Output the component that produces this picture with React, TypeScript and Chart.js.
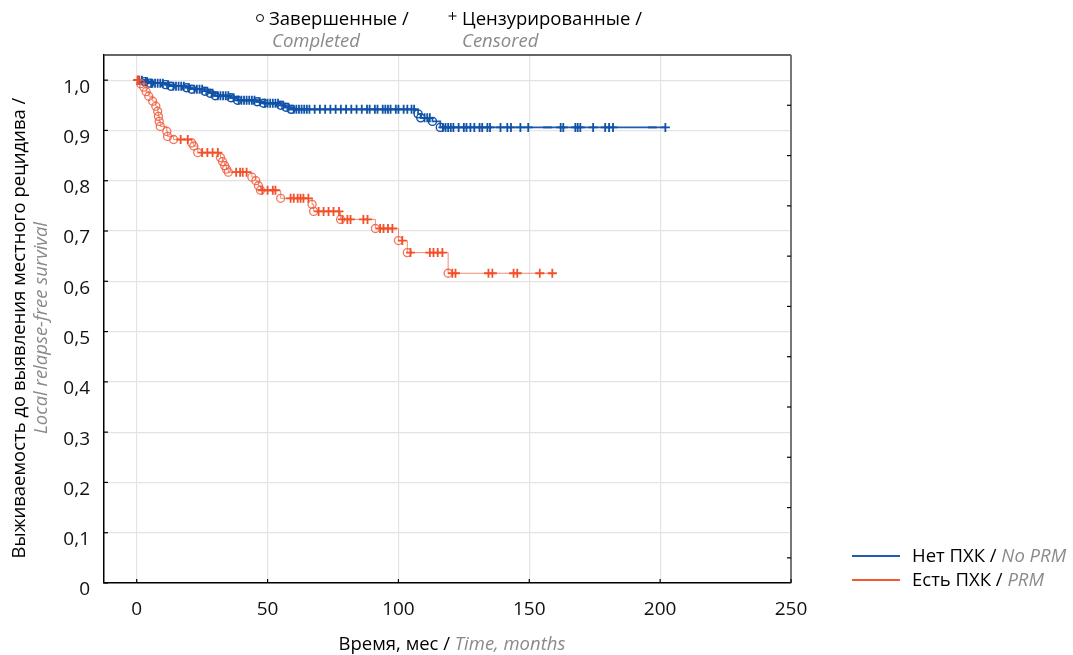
import React, { useEffect, useRef } from 'react';
import { Chart, registerables } from 'chart.js';

Chart.register(...registerables);

// ---- data ----
const xTicks = [0, 50, 100, 150, 200, 250];
const yTicks = [0, 0.1, 0.2, 0.3, 0.4, 0.5, 0.6, 0.7, 0.8, 0.9, 1.0];

// No PRM (Нет ПХК): event times & survival after event
const noPrmEventTimes = [3, 5, 11, 13, 19, 21, 26, 28, 30, 36, 38.5, 46, 48.5, 55, 57, 59, 107.5, 108.5, 113, 116];
const noPrmEventSurv = [0.997, 0.994, 0.991, 0.988, 0.985, 0.982, 0.978, 0.974, 0.969, 0.965, 0.96, 0.957, 0.954, 0.95, 0.946, 0.942, 0.933, 0.925, 0.918, 0.906];
const noPrmCensorTimes = [0.5, 1, 2, 3.5, 4, 5.5, 6, 7, 8, 9, 10, 12, 14, 15, 16, 17, 18, 20, 22, 23, 24, 25, 27, 29, 31, 32, 33, 34, 35, 37, 39, 40, 41, 42, 43, 44, 45, 47, 49, 50, 51, 52, 53, 54, 56, 58, 60, 61, 62, 63, 64, 65, 66, 68, 70, 72, 74, 76, 78, 80, 82, 84, 86, 88, 89, 91, 92, 94, 95, 96, 97, 99, 100, 102, 103.4, 105, 106, 110, 111, 112, 117, 118, 119, 120, 121, 123, 125, 126, 127.5, 129, 131, 132, 134, 135, 139, 141.6, 143, 146.6, 149.6, 162, 163, 167.6, 168.5, 169.5, 174.4, 179, 180.5, 182, 202];
const noPrmDashTimes = [157, 197];

// PRM (Есть ПХК)
const prmEventTimes = [1.5, 2.7, 3.6, 4.6, 6.1, 7.3, 8.0, 8.3, 8.6, 9.0, 11.5, 11.8, 14.1, 21.0, 21.8, 23.3, 32.0, 32.8, 33.6, 34.3, 35.0, 44.0, 45.5, 46.5, 47.3, 55.0, 67.0, 67.6, 77.9, 91.2, 100.0, 103.4, 119.0];
const prmEventSurv = [0.993, 0.986, 0.977, 0.968, 0.958, 0.948, 0.938, 0.928, 0.918, 0.908, 0.898, 0.888, 0.882, 0.875, 0.869, 0.856, 0.846, 0.838, 0.83, 0.823, 0.817, 0.807, 0.8, 0.79, 0.781, 0.765, 0.753, 0.739, 0.723, 0.705, 0.681, 0.657, 0.616];
const prmCensorTimes = [0.3, 0.8, 16.8, 19.5, 25, 27, 29, 31, 38, 39.5, 40.5, 42, 48, 50, 52, 53, 58.8, 60, 61.5, 62.6, 63.7, 65.6, 69.5, 71.4, 73.3, 75.2, 77.3, 78.6, 80.5, 81.7, 86.6, 88.2, 93, 94.3, 96, 97.7, 101.5, 104.6, 112, 113.4, 115, 116.8, 120.6, 121.8, 134.4, 135.9, 144, 145.4, 154, 158.8];

const seriesNames = ['Нет ПХК / ', 'Есть ПХК / '];
const seriesNamesEn = ['No PRM', 'PRM'];

// ---- styles ----
const BLUE = '#0f52a8';
const BLUE_LINE = '#1f5cb0';
const RED = '#f2502a';
const RED_LINE = 'rgba(240,100,70,0.75)';
const GRAY_TEXT = '#8a8a8a';
const FONT = '"Open Sans", sans-serif';
const TXT = 18.5;

function survAt(times: number[], surv: number[], t: number) {
  let s = 1;
  for (let i = 0; i < times.length; i++) if (times[i] <= t) s = surv[i];
  return s;
}
function curve(times: number[], surv: number[], end: number) {
  const pts = [{ x: 0, y: 1 }];
  times.forEach((t, i) => pts.push({ x: t, y: surv[i] }));
  pts.push({ x: end, y: surv[surv.length - 1] });
  return pts;
}
function marks(censor: number[], times: number[], surv: number[]) {
  return censor.map((t) => ({ x: t, y: survAt(times, surv, t) }));
}

function drawMixed(ctx: CanvasRenderingContext2D, parts: { text: string; italic?: boolean; color: string }[], x: number, y: number, size: number, center = false) {
  let total = 0;
  const widths = parts.map((p) => {
    ctx.font = `${p.italic ? 'italic ' : ''}${size}px ${FONT}`;
    const w = ctx.measureText(p.text).width;
    total += w;
    return w;
  });
  let cx = center ? x - total / 2 : x;
  parts.forEach((p, i) => {
    ctx.font = `${p.italic ? 'italic ' : ''}${size}px ${FONT}`;
    ctx.fillStyle = p.color;
    ctx.textAlign = 'left';
    ctx.textBaseline = 'middle';
    ctx.fillText(p.text, cx, y);
    cx += widths[i];
  });
}

const decorPlugin = {
  id: 'decor',
  beforeDatasetsDraw(chart: any) {
    const { ctx, chartArea: a, scales } = chart;
    ctx.save();
    // top & right frame
    ctx.strokeStyle = '#333';
    ctx.lineWidth = 1.5;
    ctx.beginPath();
    ctx.moveTo(a.left, a.top);
    ctx.lineTo(a.right, a.top);
    ctx.stroke();
    ctx.strokeStyle = '#777';
    ctx.lineWidth = 2;
    ctx.beginPath();
    ctx.moveTo(a.right, a.top);
    ctx.lineTo(a.right, a.bottom);
    ctx.stroke();
    // inward ticks
    ctx.strokeStyle = '#000';
    ctx.lineWidth = 1.2;
    yTicks.forEach((v) => {
      const y = scales.y.getPixelForValue(v);
      ctx.beginPath();
      ctx.moveTo(a.left, y);
      ctx.lineTo(a.left + 4, y);
      ctx.stroke();
    });
    yTicks.slice(0, -1).forEach((v) => {
      const y = scales.y.getPixelForValue(v + 0.05);
      ctx.beginPath();
      ctx.moveTo(a.right, y);
      ctx.lineTo(a.right - 4, y);
      ctx.stroke();
    });
    xTicks.forEach((v) => {
      const x = scales.x.getPixelForValue(v);
      ctx.beginPath();
      ctx.moveTo(x, a.bottom);
      ctx.lineTo(x, a.bottom - 4);
      ctx.stroke();
    });
    ctx.restore();
  },
  afterDraw(chart: any) {
    const { ctx } = chart;
    ctx.save();
    // top legend
    ctx.strokeStyle = '#000';
    ctx.lineWidth = 1;
    ctx.beginPath();
    ctx.arc(260, 18, 3.5, 0, Math.PI * 2);
    ctx.stroke();
    drawMixed(ctx, [{ text: 'Завершенные /', color: '#000' }], 269, 20, TXT);
    drawMixed(ctx, [{ text: 'Completed', italic: true, color: GRAY_TEXT }], 272, 42, TXT);
    ctx.beginPath();
    ctx.moveTo(448.5, 16);
    ctx.lineTo(456.5, 16);
    ctx.moveTo(452.5, 12);
    ctx.lineTo(452.5, 20);
    ctx.stroke();
    drawMixed(ctx, [{ text: 'Цензурированные /', color: '#000' }], 462, 20, TXT);
    drawMixed(ctx, [{ text: 'Censored', italic: true, color: GRAY_TEXT }], 462, 42, TXT);

    // right legend
    const colors = [BLUE_LINE, '#f05a33'];
    [556, 580].forEach((y, i) => {
      ctx.strokeStyle = colors[i];
      ctx.lineWidth = 2;
      ctx.beginPath();
      ctx.moveTo(852, y);
      ctx.lineTo(900, y);
      ctx.stroke();
      drawMixed(ctx, [
        { text: seriesNames[i], color: '#000' },
        { text: seriesNamesEn[i], italic: true, color: GRAY_TEXT },
      ], 912, y + 1, TXT);
    });

    // x title
    drawMixed(ctx, [
      { text: 'Время, мес / ', color: '#000' },
      { text: 'Time, months', italic: true, color: GRAY_TEXT },
    ], 452, 645, TXT, true);

    // y title
    ctx.translate(20, 328);
    ctx.rotate(-Math.PI / 2);
    drawMixed(ctx, [{ text: 'Выживаемость до выявления местного рецидива /', color: '#000' }], 0, 0, TXT, true);
    drawMixed(ctx, [{ text: 'Local relapse-free survival', italic: true, color: GRAY_TEXT }], 0, 22, TXT, true);
    ctx.restore();
  },
};

export default function App() {
  const ref = useRef<HTMLCanvasElement>(null);
  useEffect(() => {
    document.body.style.margin = '0';
    const canvas = ref.current!;
    const noPrmEnd = noPrmCensorTimes[noPrmCensorTimes.length - 1];
    const prmEnd = prmCensorTimes[prmCensorTimes.length - 1];
    const chart = new Chart(canvas, {
      type: 'scatter',
      data: {
        datasets: [
          {
            label: 'PRM censored',
            data: marks(prmCensorTimes, prmEventTimes, prmEventSurv),
            pointStyle: 'cross',
            pointRadius: 4.5,
            borderColor: RED,
            borderWidth: 1.8,
            showLine: false,
          },
          {
            label: 'PRM events',
            data: prmEventTimes.map((t, i) => ({ x: t, y: prmEventSurv[i] })),
            pointStyle: 'circle',
            pointRadius: 4,
            borderColor: 'rgba(240,90,60,0.85)',
            backgroundColor: 'rgba(0,0,0,0)',
            borderWidth: 1.3,
            showLine: false,
          },
          {
            label: 'PRM',
            data: curve(prmEventTimes, prmEventSurv, prmEnd),
            showLine: true,
            stepped: 'before',
            borderColor: RED_LINE,
            borderWidth: 1,
            pointRadius: 0,
          },
          {
            label: 'No PRM censored',
            data: marks(noPrmCensorTimes, noPrmEventTimes, noPrmEventSurv),
            pointStyle: 'cross',
            pointRadius: 4.5,
            borderColor: BLUE,
            borderWidth: 1.8,
            showLine: false,
          },
          {
            label: 'No PRM dash',
            data: marks(noPrmDashTimes, noPrmEventTimes, noPrmEventSurv),
            pointStyle: 'line',
            pointRadius: 4.5,
            borderColor: BLUE,
            borderWidth: 1.8,
            showLine: false,
          },
          {
            label: 'No PRM events',
            data: noPrmEventTimes.map((t, i) => ({ x: t, y: noPrmEventSurv[i] })),
            pointStyle: 'circle',
            pointRadius: 4,
            borderColor: BLUE,
            backgroundColor: 'rgba(0,0,0,0)',
            borderWidth: 1.4,
            showLine: false,
          },
          {
            label: 'No PRM',
            data: curve(noPrmEventTimes, noPrmEventSurv, noPrmEnd),
            showLine: true,
            stepped: 'before',
            borderColor: BLUE_LINE,
            borderWidth: 1.8,
            pointRadius: 0,
          },
        ],
      },
      options: {
        animation: false,
        responsive: false,
        devicePixelRatio: 1,
        layout: { padding: { top: 55, right: 282, left: 0, bottom: 0 } },
        plugins: { legend: { display: false }, tooltip: { enabled: false } },
        scales: {
          x: {
            type: 'linear',
            min: -12.5,
            max: 250,
            afterBuildTicks: (s: any) => {
              s.ticks = xTicks.map((v) => ({ value: v }));
            },
            afterFit: (s: any) => {
              s.height = 72;
            },
            grid: { color: '#e4e4e4', lineWidth: 1.2, drawTicks: false },
            border: { display: true, color: '#000', width: 1.5 },
            ticks: {
              padding: 15,
              color: '#111',
              font: { family: FONT, size: 19 },
              maxRotation: 0,
            },
          },
          y: {
            type: 'linear',
            min: 0,
            max: 1.05,
            afterBuildTicks: (s: any) => {
              s.ticks = yTicks.map((v) => ({ value: v }));
            },
            afterFit: (s: any) => {
              s.width = 104;
            },
            grid: { color: '#e4e4e4', lineWidth: 1.2, drawTicks: false },
            border: { display: true, color: '#000', width: 1.5 },
            ticks: {
              padding: 14,
              labelOffset: 7,
              color: '#111',
              font: { family: FONT, size: 19 },
              callback: (v: any) => (Number(v) === 0 ? '0' : Number(v).toFixed(1).replace('.', ',')),
            },
          },
        },
      },
      plugins: [decorPlugin],
    } as any);
    return () => chart.destroy();
  }, []);
  return (
    <div style={{ width: 1073, height: 655, background: '#fff' }}>
      <canvas ref={ref} width={1073} height={655} style={{ width: 1073, height: 655, display: 'block' }} />
    </div>
  );
}
